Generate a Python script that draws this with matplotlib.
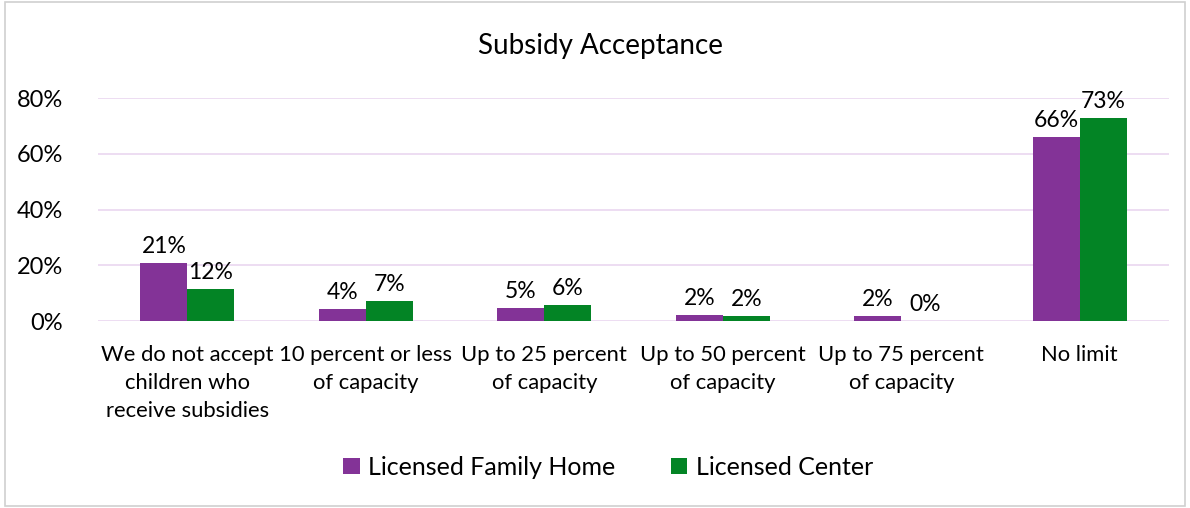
import numpy as np
import matplotlib.pyplot as plt
from matplotlib.patches import Rectangle

plt.rcParams['font.family'] = ['Lato', 'DejaVu Sans']

categories = ['We do not accept\nchildren who\nreceive subsidies', '10 percent or less\nof capacity',
              'Up to 25 percent\nof capacity', 'Up to 50 percent\nof capacity',
              'Up to 75 percent\nof capacity', 'No limit']
family_home = [0.207, 0.042, 0.047, 0.021, 0.018, 0.66]
center = [0.115, 0.072, 0.057, 0.018, 0.0, 0.729]
series_names = ['Licensed Family Home', 'Licensed Center']
colors = ['#833397', '#038425']

fig = plt.figure(figsize=(11.9, 5.08), dpi=100)
fig.patches.append(Rectangle((0.004, 0.004), 0.992, 0.992, transform=fig.transFigure,
                             fill=False, edgecolor='#D0D0D0', linewidth=1.2))
ax = fig.add_axes([0.0824, 0.368, 0.9, 0.439])

x = np.arange(len(categories))
w = 0.263
b1 = ax.bar(x - w / 2, family_home, w, color=colors[0], label=series_names[0])
b2 = ax.bar(x + w / 2, center, w, color=colors[1], label=series_names[1])

for bars, vals in [(b1, family_home), (b2, center)]:
    for rect, v in zip(bars, vals):
        ax.text(rect.get_x() + rect.get_width() / 2, v + 0.022, f'{v:.0%}',
                ha='center', va='bottom', fontsize=16.5, clip_on=False)

ax.set_ylim(0, 0.8)
ax.set_xlim(-0.5, len(categories) - 0.5)
ax.set_yticks([0, 0.2, 0.4, 0.6, 0.8])
ax.set_yticklabels(['0%', '20%', '40%', '60%', '80%'], fontsize=17)
ax.set_xticks(x)
ax.set_xticklabels(categories, fontsize=15.8, linespacing=1.5)
ax.tick_params(length=0)
ax.tick_params(axis='x', pad=17)
ax.tick_params(axis='y', pad=25)
ax.grid(axis='y', color='#EAD7F0', linewidth=1.2)
ax.set_axisbelow(True)
for s in ax.spines.values():
    s.set_visible(False)

fig.text(0.505, 0.91, 'Subsidy Acceptance', ha='center', va='center', fontsize=20)
fig.legend(handles=[b1, b2], loc='center', bbox_to_anchor=(0.511, 0.08), ncol=2,
           frameon=False, fontsize=18, handlelength=0.65, handleheight=0.65,
           columnspacing=2.2, handletextpad=0.35)

fig.savefig('out.png', dpi=100)
